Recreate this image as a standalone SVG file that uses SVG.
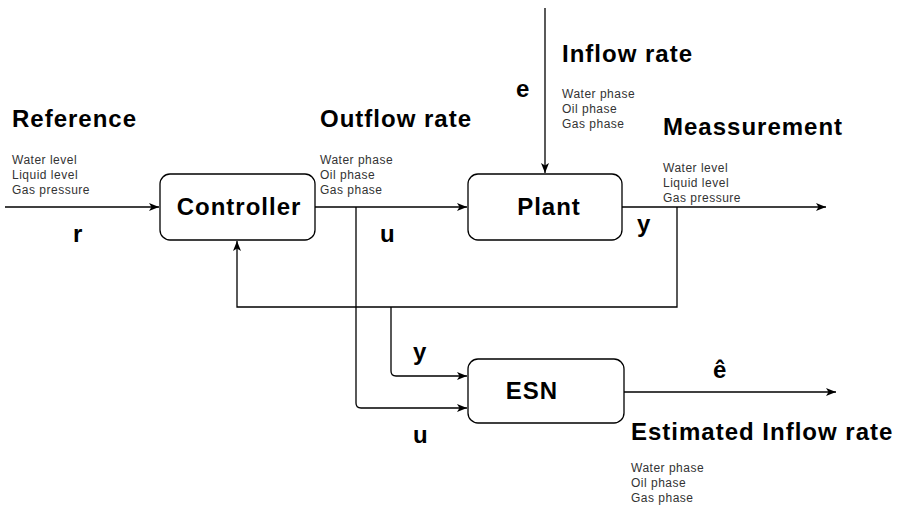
<svg xmlns="http://www.w3.org/2000/svg" width="897" height="510" viewBox="0 0 897 510">
<style>
.box{fill:#fff;stroke:#000;stroke-width:1.3}
.ln{fill:none;stroke:#000;stroke-width:1.3}
.big{font-family:"Liberation Sans",Arial,sans-serif;font-weight:bold;font-size:24px;letter-spacing:1px;fill:#000}
.lbl{font-family:"Liberation Sans",Arial,sans-serif;font-weight:bold;font-size:24px;fill:#000}
.sm{font-family:"Liberation Sans",Arial,sans-serif;font-size:12px;letter-spacing:0.5px;fill:#333}
</style>
<defs>
<marker id="ah" viewBox="0 0 10 8" refX="10" refY="4" markerWidth="10" markerHeight="8" markerUnits="userSpaceOnUse" orient="auto">
<path d="M0,0 L10,4 L0,8 L2.5,4 z" fill="#000"/>
</marker>
</defs>
<rect width="897" height="510" fill="#fff"/>
<g id="connectors">
<path class="ln" d="M5,207 H159" marker-end="url(#ah)"/>
<path class="ln" d="M315,207 H467" marker-end="url(#ah)"/>
<path class="ln" d="M545,8 V173" marker-end="url(#ah)"/>
<path class="ln" d="M622,207 H826" marker-end="url(#ah)"/>
<path class="ln" d="M677,207 V307 H237 V241" marker-end="url(#ah)"/>
<path class="ln" d="M356,207 V403 Q356,408 361,408 H467" marker-end="url(#ah)"/>
<path class="ln" d="M391,307 V371 Q391,376 396,376 H467" marker-end="url(#ah)"/>
<path class="ln" d="M624,392 H836" marker-end="url(#ah)"/>
</g>
<g id="controller">
<rect class="box" x="160" y="174" width="155" height="66" rx="10"/>
<text class="big" x="239" y="215" text-anchor="middle">Controller</text>
</g>
<g id="plant">
<rect class="box" x="468" y="174" width="154" height="66" rx="10"/>
<text class="big" x="549" y="215" text-anchor="middle">Plant</text>
</g>
<g id="esn">
<rect class="box" x="468" y="359" width="156" height="64" rx="10"/>
<text class="big" x="532" y="399" text-anchor="middle">ESN</text>
</g>
<g id="labels">
<text class="big" x="12" y="127">Reference</text>
<text class="sm" x="12" y="164">Water level</text>
<text class="sm" x="12" y="179">Liquid level</text>
<text class="sm" x="12" y="194">Gas pressure</text>
<text class="lbl" x="73" y="242">r</text>
<text class="big" x="320" y="127">Outflow rate</text>
<text class="sm" x="320" y="164">Water phase</text>
<text class="sm" x="320" y="179">Oil phase</text>
<text class="sm" x="320" y="194">Gas phase</text>
<text class="lbl" x="380" y="242">u</text>
<text class="big" x="562" y="62">Inflow rate</text>
<text class="sm" x="562" y="98">Water phase</text>
<text class="sm" x="562" y="113">Oil phase</text>
<text class="sm" x="562" y="128">Gas phase</text>
<text class="lbl" x="516" y="97">e</text>
<text class="big" x="663" y="135">Meassurement</text>
<text class="sm" x="663" y="172">Water level</text>
<text class="sm" x="663" y="187">Liquid level</text>
<text class="sm" x="663" y="202">Gas pressure</text>
<text class="lbl" x="637" y="232">y</text>
<text class="lbl" x="413" y="360">y</text>
<text class="lbl" x="413" y="443">u</text>
<text class="lbl" x="713" y="378">ê</text>
<text class="big" x="631" y="440">Estimated Inflow rate</text>
<text class="sm" x="631" y="472">Water phase</text>
<text class="sm" x="631" y="487">Oil phase</text>
<text class="sm" x="631" y="502">Gas phase</text>
</g>
</svg>
